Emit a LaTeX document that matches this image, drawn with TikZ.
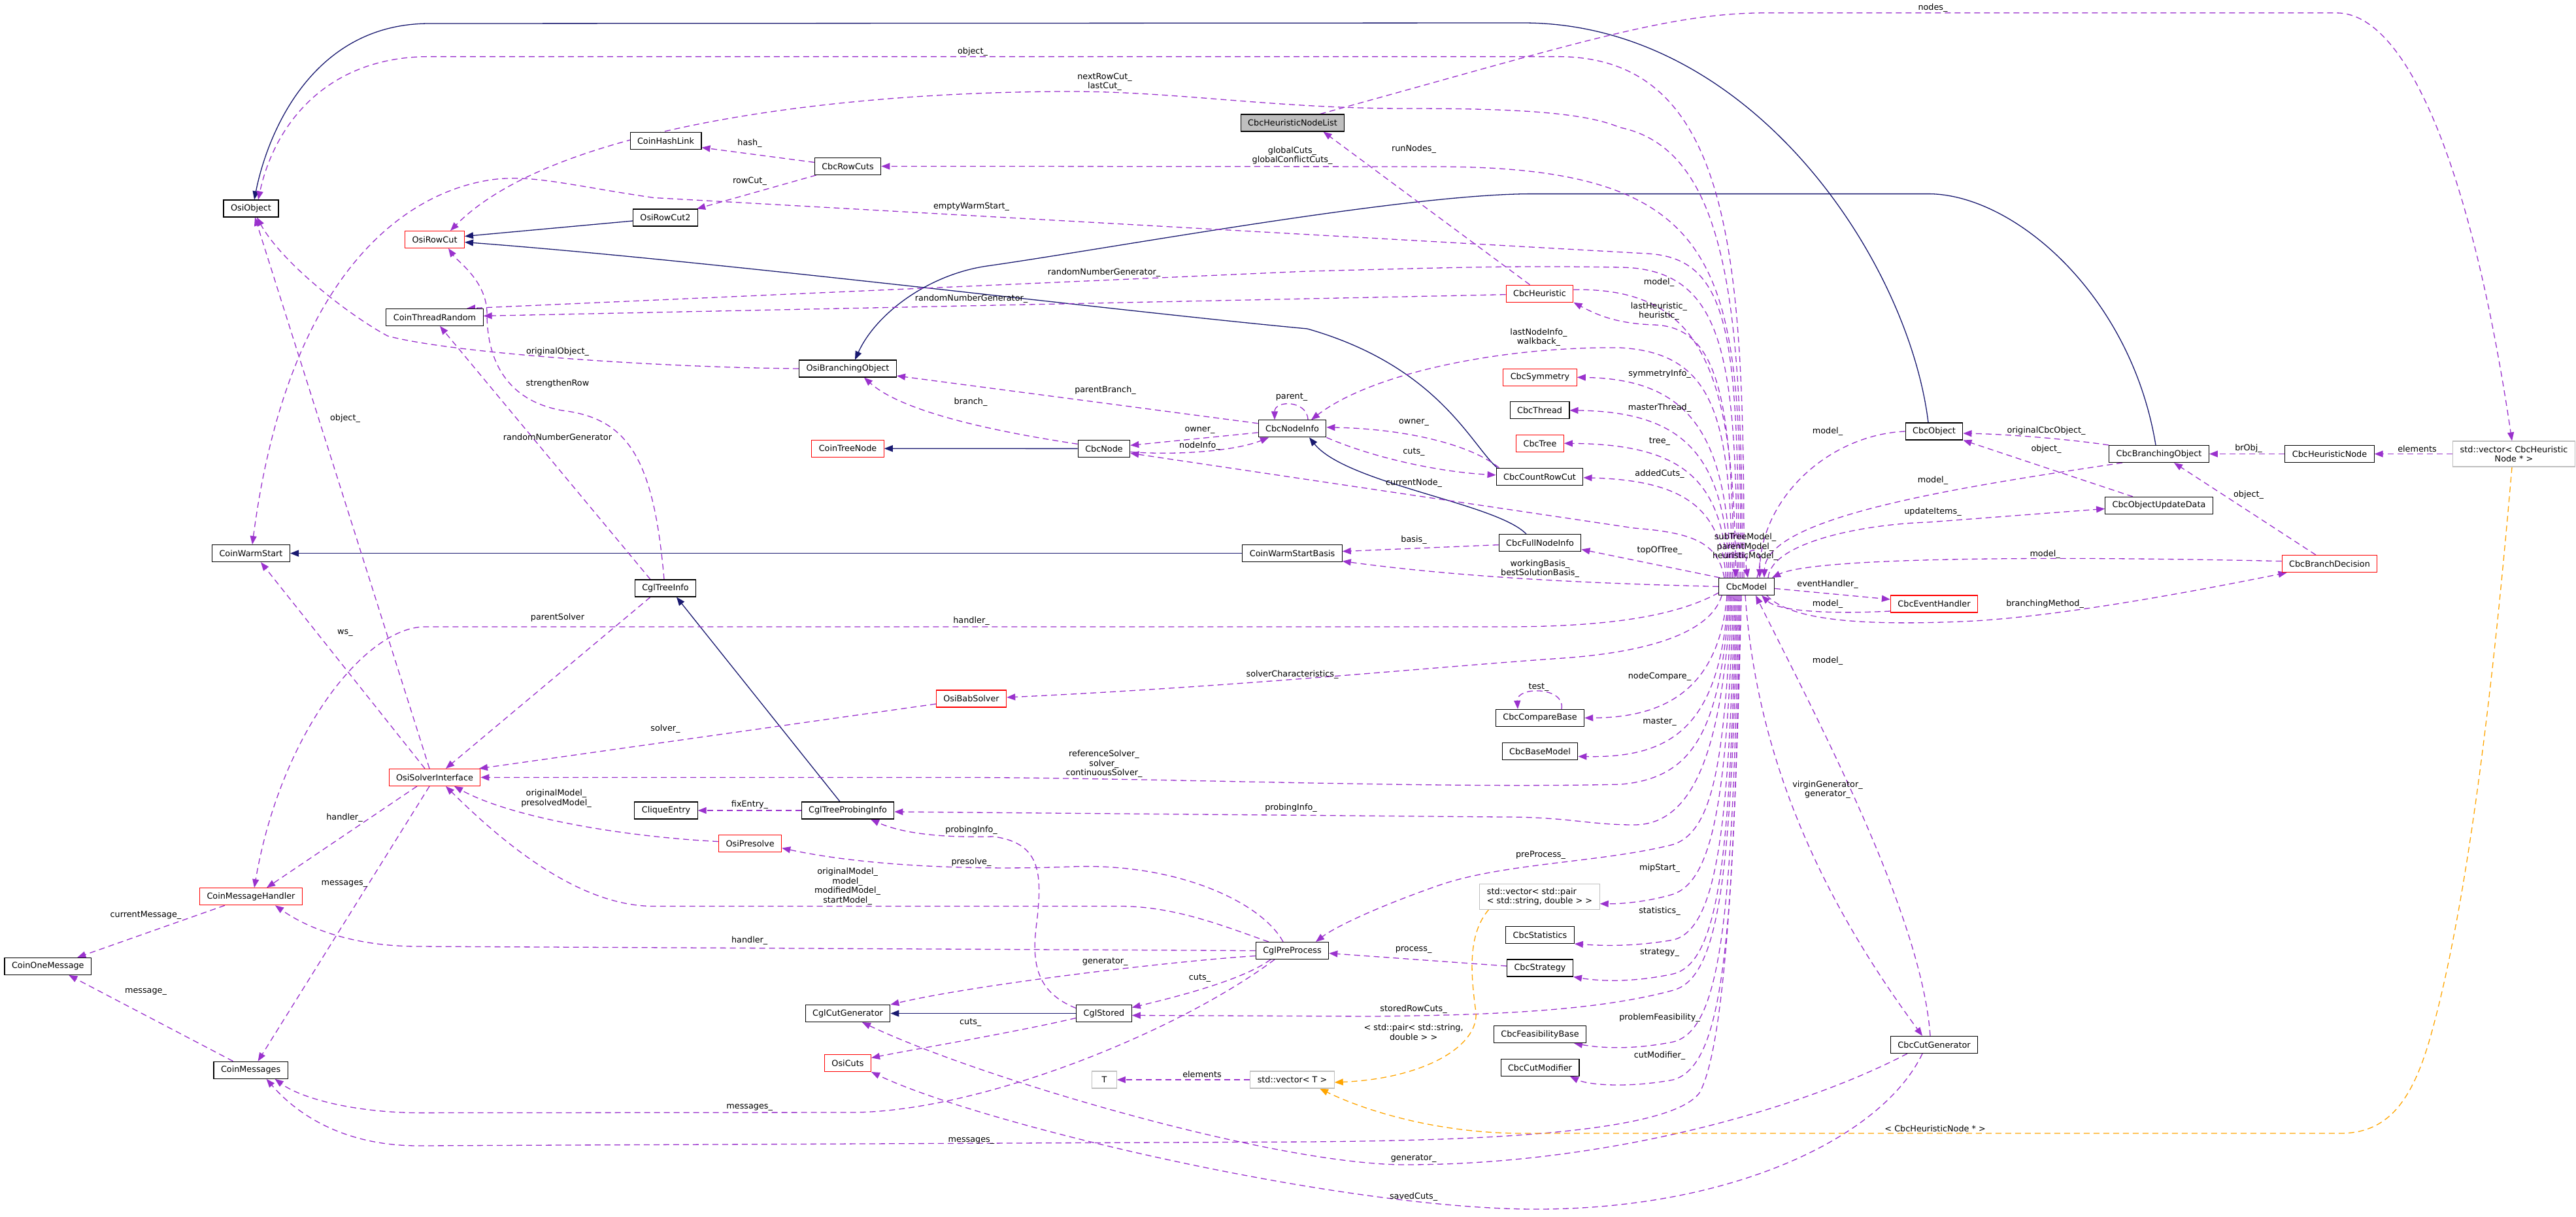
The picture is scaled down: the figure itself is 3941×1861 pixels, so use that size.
\documentclass[tikz,border=0pt]{standalone}
\usepackage{fontspec}
\setmainfont{DejaVu Sans}
\usetikzlibrary{arrows.meta,backgrounds}
\definecolor{purp}{RGB}{154,50,205}
\definecolor{navyc}{RGB}{25,25,112}
\definecolor{orng}{RGB}{255,165,0}
\definecolor{grayb}{RGB}{191,191,191}
\tikzset{
 box/.style={draw=black, line width=1.1pt, fill=white, minimum height=26pt, inner xsep=11pt, inner ysep=1pt},
 rbox/.style={box, draw=red},
 tbox/.style={box, draw=grayb},
 dep/.style={draw=purp, line width=1.3pt, dash pattern=on 9pt off 6pt, -{Triangle[length=13pt,width=10pt]}},
 inh/.style={draw=navyc, line width=1.3pt, -{Triangle[length=13pt,width=10pt]}},
 tpl/.style={draw=orng, line width=1.3pt, dash pattern=on 9pt off 6pt, -{Triangle[length=13pt,width=10pt]}},
 lbl/.style={inner sep=0pt, align=center}
}
\begin{document}
\begin{tikzpicture}[x=1pt, y=-1pt, font=\fontsize{12.8}{14.5}\selectfont]
\useasboundingbox (0,0) rectangle (3941,1861);
% ---------------- nodes
\node[box] (OsiObject) at (384,319) {OsiObject};
\node[rbox] (OsiRowCut) at (665,366.5) {OsiRowCut};
\node[box] (CoinThreadRandom) at (665,485.4) {CoinThreadRandom};
\node[box] (CoinHashLink) at (1018.5,215.7) {CoinHashLink};
\node[box] (OsiRowCut2) at (1018,333) {OsiRowCut2};
\node[box, fill=grayb] (CbcHeuristicNodeList) at (1977.5,188) {CbcHeuristicNodeList};
\node[box] (CbcRowCuts) at (1297,254.4) {CbcRowCuts};
\node[box] (OsiBranchingObject) at (1297,564) {OsiBranchingObject};
\node[rbox] (CbcHeuristic) at (2355.5,449.2) {CbcHeuristic};
\node[rbox] (CbcSymmetry) at (2356,577.3) {CbcSymmetry};
\node[box] (CbcThread) at (2355.5,627.8) {CbcThread};
\node[rbox] (CbcTree) at (2356,678.3) {CbcTree};
\node[box] (CbcCountRowCut) at (2355.5,729.3) {CbcCountRowCut};
\node[box] (CbcNodeInfo) at (1977,655.8) {CbcNodeInfo};
\node[box] (CbcNode) at (1689,686.4) {CbcNode};
\node[rbox] (CoinTreeNode) at (1297,686.2) {CoinTreeNode};
\node[box] (CbcFullNodeInfo) at (2356,830.6) {CbcFullNodeInfo};
\node[box] (CoinWarmStartBasis) at (1977,846.6) {CoinWarmStartBasis};
\node[box] (CoinWarmStart) at (384,846.6) {CoinWarmStart};
\node[box] (CbcModel) at (2672,897.4) {CbcModel};
\node[box] (CbcObject) at (2959,660) {CbcObject};
\node[box] (CbcBranchingObject) at (3303,694.5) {CbcBranchingObject};
\node[box] (CbcHeuristicNode) at (3564,694.5) {CbcHeuristicNode};
\node[tbox, minimum height=39pt, inner ysep=2pt, align=center] (vecHN) at (3846,694.5) {std::vector< CbcHeuristic\\Node * >};
\node[box] (CbcObjectUpdateData) at (3303,773.4) {CbcObjectUpdateData};
\node[rbox] (CbcBranchDecision) at (3564,862.6) {CbcBranchDecision};
\node[rbox] (CbcEventHandler) at (2959,924) {CbcEventHandler};
\node[box] (CbcCompareBase) at (2356,1098.4) {CbcCompareBase};
\node[box] (CbcBaseModel) at (2356,1149.3) {CbcBaseModel};
\node[box] (CglTreeInfo) at (1018,900) {CglTreeInfo};
\node[rbox] (OsiSolverInterface) at (665,1189.4) {OsiSolverInterface};
\node[rbox] (OsiBabSolver) at (1486,1069) {OsiBabSolver};
\node[box] (CliqueEntry) at (1019,1240) {CliqueEntry};
\node[box] (CglTreeProbingInfo) at (1297,1240) {CglTreeProbingInfo};
\node[rbox] (OsiPresolve) at (1147.6,1290.5) {OsiPresolve};
\node[box] (CglPreProcess) at (1977,1454.5) {CglPreProcess};
\node[box] (CglCutGenerator) at (1297,1550.5) {CglCutGenerator};
\node[box] (CglStored) at (1689,1550.5) {CglStored};
\node[rbox] (OsiCuts) at (1297,1626.5) {OsiCuts};
\node[tbox, minimum width=38pt] (Tn) at (1689.4,1652) {T};
\node[tbox] (vecT) at (1977,1652) {std::vector< T >};
\node[tbox, minimum height=39pt, inner ysep=2pt, align=left] (vecPair) at (2355.5,1371.7) {std::vector< std::pair\\< std::string, double > >};
\node[box] (CbcStatistics) at (2356,1430.5) {CbcStatistics};
\node[box] (CbcStrategy) at (2356,1481) {CbcStrategy};
\node[box] (CbcFeasibilityBase) at (2356,1582.6) {CbcFeasibilityBase};
\node[box] (CbcCutModifier) at (2356,1633.3) {CbcCutModifier};
\node[box] (CbcCutGenerator) at (2959,1598.4) {CbcCutGenerator};
\node[rbox] (CoinMessageHandler) at (384,1371.7) {CoinMessageHandler};
\node[box] (CoinOneMessage) at (73.3,1478.4) {CoinOneMessage};
\node[box] (CoinMessages) at (383.6,1637.2) {CoinMessages};
% ---------------- labels
\node[lbl] (lb1) at (1488,79) {object\_};
\node[lbl] (lb2) at (1690,125.5) {nextRowCut\_\\lastCut\_};
\node[lbl] (lb3) at (2957,12) {nodes\_};
\node[lbl] (lb4) at (2163,227.8) {runNodes\_};
\node[lbl] (lb5) at (1147,219.5) {hash\_};
\node[lbl] (lb6) at (1977,238) {globalCuts\_\\globalConflictCuts\_};
\node[lbl] (lb7) at (1147,276.8) {rowCut\_};
\node[lbl] (lb8) at (1486,316) {emptyWarmStart\_};
\node[lbl] (lb9) at (1689,416.8) {randomNumberGenerator\_};
\node[lbl] (lb10) at (1486,456.7) {randomNumberGenerator\_};
\node[lbl] (lb11) at (2538,432) {model\_};
\node[lbl] (lb12) at (2538,476) {lastHeuristic\_\\heuristic\_};
\node[lbl] (lb13) at (2354,516) {lastNodeInfo\_\\walkback\_};
\node[lbl] (lb14) at (2539,572) {symmetryInfo\_};
\node[lbl] (lb15) at (2539,624) {masterThread\_};
\node[lbl] (lb16) at (2539,675.4) {tree\_};
\node[lbl] (lb17) at (2539,724.8) {addedCuts\_};
\node[lbl] (lb18) at (853,538.6) {originalObject\_};
\node[lbl] (lb19) at (853,586.8) {strengthenRow};
\node[lbl] (lb20) at (853,669) {randomNumberGenerator};
\node[lbl] (lb21) at (528,640.6) {object\_};
\node[lbl] (lb22) at (1691,596.7) {parentBranch\_};
\node[lbl] (lb23) at (1485,614.9) {branch\_};
\node[lbl] (lb24) at (1976,608) {parent\_};
\node[lbl] (lb25) at (1835.5,658.8) {owner\_};
\node[lbl] (lb26) at (1835.5,682.5) {nodeInfo\_};
\node[lbl] (lb27) at (2163,646.9) {owner\_};
\node[lbl] (lb28) at (2163,692) {cuts\_};
\node[lbl] (lb29) at (2163,739.4) {currentNode\_};
\node[lbl] (lb30) at (2163,826.4) {basis\_};
\node[lbl] (lb31) at (2539,842.6) {topOfTree\_};
\node[lbl] (lb32) at (2356,870) {workingBasis\_\\bestSolutionBasis\_};
\node[lbl] (lb33) at (2670,837) {subTreeModel\_\\parentModel\_\\heuristicModel\_};
\node[lbl] (lb34) at (2796,660.3) {model\_};
\node[lbl] (lb35) at (3130.5,658.7) {originalCbcObject\_};
\node[lbl] (lb36) at (3130.5,687.2) {object\_};
\node[lbl] (lb37) at (3440,686.4) {brObj\_};
\node[lbl] (lb38) at (3698,686.4) {elements};
\node[lbl] (lb39) at (2957,734.7) {model\_};
\node[lbl] (lb40) at (2957,783.3) {updateItems\_};
\node[lbl] (lb41) at (3440,756.8) {object\_};
\node[lbl] (lb42) at (3128.6,847.8) {model\_};
\node[lbl] (lb43) at (3128.6,923.7) {branchingMethod\_};
\node[lbl] (lb44) at (2796,894) {eventHandler\_};
\node[lbl] (lb45) at (2796,924.5) {model\_};
\node[lbl] (lb46) at (2796,1011.5) {model\_};
\node[lbl] (lb47) at (528,968) {ws\_};
\node[lbl] (lb48) at (853,944.6) {parentSolver};
\node[lbl] (lb49) at (1486,950.2) {handler\_};
\node[lbl] (lb50) at (1977,1032) {solverCharacteristics\_};
\node[lbl] (lb51) at (1018,1115) {solver\_};
\node[lbl] (lb52) at (2539,1035) {nodeCompare\_};
\node[lbl] (lb53) at (2354,1052) {test\_};
\node[lbl] (lb54) at (2539,1104.8) {master\_};
\node[lbl] (lb55) at (1689,1169) {referenceSolver\_\\solver\_\\continuousSolver\_};
\node[lbl] (lb56) at (2796,1208) {virginGenerator\_\\generator\_};
\node[lbl] (lb57) at (1147,1231) {fixEntry\_};
\node[lbl] (lb58) at (1975,1236) {probingInfo\_};
\node[lbl] (lb59) at (851,1221.6) {originalModel\_\\presolvedModel\_};
\node[lbl] (lb60) at (527,1250.7) {handler\_};
\node[lbl] (lb61) at (1486,1270.5) {probingInfo\_};
\node[lbl] (lb62) at (1486,1319) {presolve\_};
\node[lbl] (lb63) at (2357,1308) {preProcess\_};
\node[lbl] (lb64) at (2539,1328) {mipStart\_};
\node[lbl] (lb65) at (1296.6,1356) {originalModel\_\\model\_\\modifiedModel\_\\startModel\_};
\node[lbl] (lb66) at (527,1352) {messages\_};
\node[lbl] (lb67) at (2539,1394.5) {statistics\_};
\node[lbl] (lb68) at (223,1400.8) {currentMessage\_};
\node[lbl] (lb69) at (1146.7,1439) {handler\_};
\node[lbl] (lb70) at (2162.6,1453) {process\_};
\node[lbl] (lb71) at (2539,1457) {strategy\_};
\node[lbl] (lb72) at (1690.7,1471) {generator\_};
\node[lbl] (lb73) at (1835.5,1496.6) {cuts\_};
\node[lbl] (lb74) at (223,1517) {message\_};
\node[lbl] (lb75) at (2162.6,1544.5) {storedRowCuts\_};
\node[lbl] (lb76) at (2539,1556.8) {problemFeasibility\_};
\node[lbl] (lb77) at (1484.7,1564) {cuts\_};
\node[lbl] (lb78) at (2162.6,1579) {< std::pair< std::string,\\double > >};
\node[lbl] (lb79) at (2539,1615.4) {cutModifier\_};
\node[lbl] (lb80) at (1839,1644) {elements};
\node[lbl] (lb81) at (1146.7,1694.6) {messages\_};
\node[lbl] (lb82) at (2960.6,1726.3) {< CbcHeuristicNode * >};
\node[lbl] (lb83) at (1486,1745) {messages\_};
\node[lbl] (lb84) at (2162.6,1772.7) {generator\_};
\node[lbl] (lb85) at (2162.6,1831) {savedCuts\_};
% ---------------- edges
\begin{scope}[on background layer]
\fill[white] (0,0) rectangle (3941,1861);
% inheritance
\draw[inh] ([xshift=-9pt]CbcObject.north) .. controls (2920,400) and (2680,35) .. (2330,35) -- (657,36) .. controls (480,36) and (410,200) .. ([xshift=5pt]OsiObject.north);
\draw[inh] ([xshift=-5pt]CbcBranchingObject.north) .. controls (3260,450) and (3080,296.6) .. (2950,296.6) -- (2344,296.6) .. controls (2150,296.6) and (1700,380) .. (1510,407) .. controls (1420,420) and (1340,480) .. ([xshift=11pt]OsiBranchingObject.north);
\draw[inh] ([xshift=2pt]CbcCountRowCut.north west) .. controls (2250,680) and (2200,560) .. (2000,503) .. controls (1700,475) and (1100,400) .. ([yshift=-4pt]OsiRowCut.east);
\draw[inh] ([yshift=-5pt]OsiRowCut2.west) -- ([yshift=5pt]OsiRowCut.east);
\draw[inh] ([xshift=-21pt]CbcFullNodeInfo.north) .. controls (2290,770) and (2060,740) .. ([xshift=26pt]CbcNodeInfo.south);
\draw[inh] (CoinWarmStartBasis) -- (CoinWarmStart);
\draw[inh] (CbcNode) -- (CoinTreeNode);
\draw[inh] ([xshift=-12pt]CglTreeProbingInfo.north) -- ([xshift=17pt]CglTreeInfo.south);
\draw[inh] (CglStored) -- (CglCutGenerator);
% top bundle of CbcModel
\draw[dep] ([xshift=-4pt]CbcModel.north) .. controls (2668,420) and (2660,86.6) .. (2383,86.6) -- (657,86.6) .. controls (500,86.6) and (420,190) .. ([xshift=11pt]OsiObject.north);
\draw[dep] ([xshift=-6.5pt]CbcModel.north) .. controls (2665,500) and (2652,230) .. (2478,195) .. controls (2420,170) and (2300,166) .. (2150,166) .. controls (1950,166) and (1800,140) .. (1638,140) .. controls (1300,140) and (850,190) .. ([xshift=24pt]OsiRowCut.north);
\draw[dep] ([xshift=-9pt]CbcModel.north) .. controls (2663,420) and (2655,256) .. (2200,255) -- (CbcRowCuts.east);
\draw[dep] ([xshift=-11.5pt]CbcModel.north) .. controls (2658,520) and (2650,395) .. (2520,388) -- (1000,302.5) .. controls (880,285) and (820,268) .. (760,274) .. controls (620,290) and (440,420) .. ([xshift=2pt]CoinWarmStart.north);
\draw[dep] ([xshift=-14pt]CbcModel.north) .. controls (2655,560) and (2645,412) .. (2480,409) .. controls (2300,406) and (2200,410) .. (2000,415) -- ([xshift=49pt]CoinThreadRandom.north);
\draw[dep] ([yshift=6pt]CbcHeuristic.east) .. controls (2600,440) and (2652,560) .. ([xshift=-16.5pt]CbcModel.north);
\draw[dep] ([xshift=-19pt]CbcModel.north) .. controls (2649,620) and (2633,500) .. (2530,497) .. controls (2470,495) and (2440,480) .. (CbcHeuristic.south east);
\draw[dep] ([xshift=-21.5pt]CbcModel.north) .. controls (2646,650) and (2630,540) .. (2478,532) .. controls (2300,530) and (2100,570) .. ([xshift=29pt]CbcNodeInfo.north);
\draw[dep] ([xshift=-24pt]CbcModel.north) .. controls (2643,670) and (2590,580) .. (CbcSymmetry.east);
\draw[dep] ([xshift=-26.5pt]CbcModel.north) .. controls (2640,700) and (2580,630) .. (CbcThread.east);
\draw[dep] ([xshift=-29pt]CbcModel.north) .. controls (2637,730) and (2570,680) .. (CbcTree.east);
\draw[dep] ([xshift=-31.5pt]CbcModel.north) .. controls (2633,780) and (2580,735) .. ([yshift=-1.5pt]CbcCountRowCut.east);
\draw[dep] ([xshift=-34pt]CbcModel.north) .. controls (2628,830) and (2590,815) .. (2500,808) -- ([yshift=-7pt]CbcNode.east);
\draw[dep] ([xshift=2pt]CbcModel.north west) -- ([yshift=-10pt]CbcFullNodeInfo.east);
\draw[dep] (CbcModel.west) .. controls (2450,893) and (2250,885) .. ([yshift=-12pt]CoinWarmStartBasis.east);
\draw[dep] ([xshift=16pt]CbcModel.north) .. controls (2705,830) and (2665,830) .. ([xshift=2pt]CbcModel.north);
\draw[dep] (CbcObject.west) .. controls (2800,665) and (2694,760) .. ([xshift=20pt]CbcModel.north);
\draw[dep] ([xshift=-56pt]CbcBranchingObject.south) .. controls (3000,745) and (2702,790) .. ([xshift=27pt]CbcModel.north);
\draw[dep] ([xshift=33pt]CbcModel.north) .. controls (2710,830) and (2850,802) .. (2950,799) -- ([yshift=-5pt]CbcObjectUpdateData.west);
\draw[dep] ([yshift=4pt]CbcBranchDecision.west) .. controls (3200,852) and (2780,850) .. ([xshift=39pt]CbcModel.north);
% right side
\draw[dep] ([xshift=-12pt]CbcModel.south east) .. controls (2740,950) and (2850,957) .. (3000,951) .. controls (3150,945) and (3380,900) .. ([xshift=8pt]CbcBranchDecision.south west);
\draw[dep] ([yshift=-3pt]CbcModel.east) -- ([yshift=7pt]CbcEventHandler.west);
\draw[dep] ([yshift=-11pt]CbcEventHandler.west) .. controls (2800,940) and (2720,935) .. ([xshift=23pt]CbcModel.south);
\draw[dep] ([xshift=-2pt]CbcModel.south) .. controls (2690,1200) and (2820,1420) .. ([xshift=-18pt]CbcCutGenerator.north);
\draw[dep] ([xshift=-6pt]CbcCutGenerator.north) .. controls (2940,1400) and (2780,1100) .. ([xshift=14pt]CbcModel.south);
\draw[dep] (CbcBranchingObject.north west) .. controls (3150,670) and (3060,664) .. ([yshift=-3pt]CbcObject.east);
\draw[dep] ([xshift=-40pt]CbcObjectUpdateData.north) -- (CbcObject.south east);
\draw[dep] (CbcHeuristicNode) -- (CbcBranchingObject);
\draw[dep] (vecHN) -- (CbcHeuristicNode);
\draw[dep] ([xshift=-21pt]CbcBranchDecision.north) -- ([xshift=23pt]CbcBranchingObject.south);
% bottom bundle of CbcModel
\draw[dep] ([yshift=4pt]CbcModel.south west) .. controls (2560,945) and (2450,959) .. (2300,959) -- (650,959) .. controls (560,959) and (430,1120) .. ([xshift=5pt]CoinMessageHandler.north);
\draw[dep] ([xshift=5pt]CbcModel.south west) .. controls (2615,975) and (2500,1000) .. (2383,1007.5) .. controls (2200,1020) and (1900,1050) .. ([yshift=2pt]OsiBabSolver.east);
\draw[dep] ([xshift=-30pt]CbcModel.south) .. controls (2630,1060) and (2540,1098) .. (CbcCompareBase.east);
\draw[dep] ([xshift=-28pt]CbcModel.south) .. controls (2632,1110) and (2560,1160) .. ([yshift=-8pt]CbcBaseModel.east);
\draw[dep] ([xshift=-26pt]CbcModel.south) .. controls (2632,1120) and (2590,1190) .. (2480,1200) .. controls (2200,1207) and (1750,1189.4) .. (1450,1189.4) -- (OsiSolverInterface.east);
\draw[dep] ([xshift=-24pt]CbcModel.south) .. controls (2635,1150) and (2590,1262) .. (2500,1262) .. controls (2430,1262) and (2400,1250) .. (2300,1250) -- ([yshift=-2pt]CglTreeProbingInfo.east);
\draw[dep] ([xshift=-22pt]CbcModel.south) .. controls (2638,1150) and (2625,1270) .. (2560,1292) .. controls (2450,1320) and (2300,1320) .. (2200,1355) .. controls (2100,1390) and (2040,1420) .. ([xshift=36pt]CglPreProcess.north);
\draw[dep] ([xshift=-20pt]CbcModel.south) .. controls (2642,1200) and (2625,1345) .. (2560,1368) .. controls (2520,1380) and (2480,1383) .. ([yshift=-11pt]vecPair.east);
\draw[dep] ([xshift=-18pt]CbcModel.south) .. controls (2645,1250) and (2630,1420) .. (2560,1438) .. controls (2490,1450) and (2440,1446) .. (CbcStatistics.south east);
\draw[dep] ([xshift=-16pt]CbcModel.south) .. controls (2647,1300) and (2632,1472) .. (2560,1490) .. controls (2490,1505) and (2440,1500) .. (CbcStrategy.south east);
\draw[dep] ([xshift=-14pt]CbcModel.south) .. controls (2649,1330) and (2632,1495) .. (2560,1515) .. controls (2450,1545) and (2300,1553) .. (2100,1555) -- ([yshift=-3pt]CglStored.east);
\draw[dep] ([xshift=-12pt]CbcModel.south) .. controls (2651,1400) and (2634,1575) .. (2560,1594) .. controls (2490,1608) and (2440,1602) .. ([xshift=52pt]CbcFeasibilityBase.south);
\draw[dep] ([xshift=-10pt]CbcModel.south) .. controls (2653,1450) and (2636,1630) .. (2560,1652) .. controls (2490,1665) and (2430,1660) .. ([xshift=46pt]CbcCutModifier.south);
\draw[dep] ([xshift=-8pt]CbcModel.south) .. controls (2655,1300) and (2640,1600) .. (2600,1672) .. controls (2550,1740) and (2200,1745) .. (2000,1747) -- (640,1753) .. controls (520,1753) and (450,1700) .. ([xshift=24pt]CoinMessages.south);
% middle
\draw[dep] ([xshift=-15pt]CbcHeuristic.north) -- ([xshift=47pt]CbcHeuristicNodeList.south);
\draw[dep] ([xshift=42pt]CbcHeuristicNodeList.north) .. controls (2400,70) and (2550,19.8) .. (2700,19.8) -- (3575,19.8) .. controls (3680,19.8) and (3780,250) .. ([xshift=-3pt]vecHN.north);
\draw[dep] ([yshift=6pt]CbcRowCuts.west) -- ([yshift=-10pt]CoinHashLink.east);
\draw[dep] ([xshift=3pt]CbcRowCuts.south west) -- ([xshift=-2pt]OsiRowCut2.north east);
\draw[dep] ([yshift=-1.5pt]CbcHeuristic.west) -- ([yshift=2pt]CoinThreadRandom.east);
\draw[dep] ([xshift=-23pt]CglTreeInfo.north) -- ([xshift=8pt]CoinThreadRandom.south);
\draw[dep] ([xshift=-2pt]CglTreeInfo.north) .. controls (1000,700) and (960,640) .. (860,628) .. controls (760,610) and (745,530) .. (745,480) .. controls (745,430) and (700,400) .. ([xshift=21pt]OsiRowCut.south);
\draw[dep] (OsiBranchingObject.west) .. controls (1000,562) and (690,540) .. (593,514) .. controls (530,480) and (430,400) .. ([xshift=9pt]OsiObject.south);
\draw[dep] ([xshift=-8pt]OsiSolverInterface.north) -- ([xshift=6pt]OsiObject.south);
\draw[dep] ([xshift=-15pt]OsiSolverInterface.north) -- ([xshift=15pt]CoinWarmStart.south);
\draw[dep] ([xshift=-23pt]CglTreeInfo.south) -- ([xshift=17pt]OsiSolverInterface.north);
\draw[dep] ([xshift=-27pt]OsiSolverInterface.south) -- ([xshift=24pt]CoinMessageHandler.north);
\draw[dep] ([xshift=-8pt]OsiSolverInterface.south) -- ([xshift=11pt]CoinMessages.north);
\draw[dep] ([xshift=-40pt]CoinMessageHandler.south) -- ([xshift=45pt]CoinOneMessage.north);
\draw[dep] ([xshift=-27pt]CoinMessages.north) -- ([xshift=32pt]CoinOneMessage.south);
\draw[dep] ([xshift=-62pt]CbcCountRowCut.north) .. controls (2250,680) and (2150,656) .. ([yshift=2pt]CbcNodeInfo.east);
\draw[dep] (CbcNodeInfo.south east) .. controls (2100,700) and (2200,722) .. ([yshift=2.5pt]CbcCountRowCut.west);
\draw[dep] ([xshift=24pt]CbcNodeInfo.north) .. controls (2000,612) and (1950,612) .. ([xshift=-27pt]CbcNodeInfo.north);
\draw[dep] ([yshift=8pt]CbcNodeInfo.west) -- ([yshift=-11pt]OsiBranchingObject.east);
\draw[dep] ([yshift=7pt]CbcNode.west) .. controls (1520,660) and (1380,630) .. ([xshift=25pt]OsiBranchingObject.south);
\draw[dep] ([yshift=-6pt]CbcNodeInfo.west) -- ([yshift=5pt]CbcNode.east);
\draw[dep] ([yshift=-5pt]CbcNode.east) .. controls (1800,697) and (1890,690) .. ([xshift=-36pt]CbcNodeInfo.south);
\draw[dep] ([yshift=-3pt]CbcFullNodeInfo.west) -- ([yshift=3pt]CoinWarmStartBasis.east);
\draw[dep] ([yshift=-8pt]OsiBabSolver.west) -- ([xshift=68pt]OsiSolverInterface.north);
\draw[dep] ([xshift=33pt]CbcCompareBase.north) .. controls (2395,1050) and (2320,1050) .. ([xshift=-34pt]CbcCompareBase.north);
\draw[dep] (CglTreeProbingInfo) -- (CliqueEntry);
\draw[dep] ([yshift=8pt]CglStored.west) .. controls (1590,1520) and (1578,1480) .. (1585,1420) .. controls (1595,1340) and (1595,1290) .. (1520,1280) .. controls (1440,1282) and (1380,1275) .. ([xshift=35pt]CglTreeProbingInfo.south);
\draw[dep] ([yshift=-7pt]CglStored.west) .. controls (1550,1580) and (1400,1605) .. ([yshift=8pt]OsiCuts.east);
\draw[dep] ([xshift=-36pt]CglPreProcess.north) .. controls (1880,1420) and (1800,1386.5) .. (1714,1386.5) -- (1000,1386.5) .. controls (880,1386.5) and (760,1280) .. ([xshift=17pt]OsiSolverInterface.south);
\draw[dep] ([yshift=3pt]OsiPresolve.west) .. controls (950,1280) and (780,1250) .. ([xshift=30pt]OsiSolverInterface.south);
\draw[dep] ([xshift=-14pt]CglPreProcess.north) .. controls (1930,1380) and (1800,1320) .. (1640,1326) .. controls (1450,1333) and (1300,1320) .. ([yshift=-7pt]OsiPresolve.east);
\draw[dep] (CglPreProcess.west) -- (640,1448) .. controls (540,1448) and (470,1420) .. ([xshift=37pt]CoinMessageHandler.south);
\draw[dep] ([yshift=-8pt]CglPreProcess.west) .. controls (1800,1470) and (1500,1505) .. (CglCutGenerator.north east);
\draw[dep] ([xshift=-33pt]CglPreProcess.south) .. controls (1900,1500) and (1800,1525) .. ([yshift=9pt]CglStored.east);
\draw[dep] ([xshift=-27pt]CglPreProcess.south) .. controls (1800,1580) and (1500,1700) .. (1306,1702) -- (640,1702.6) .. controls (540,1702) and (460,1680) .. ([xshift=37pt]CoinMessages.south);
\draw[dep] ([yshift=3pt]CbcStrategy.west) -- ([yshift=-4pt]CglPreProcess.east);
\draw[dep] (vecT) -- (Tn);
\draw[dep] ([xshift=-41pt]CbcCutGenerator.south) .. controls (2750,1700) and (2450,1782) .. (2150,1782) .. controls (1950,1782) and (1500,1650) .. ([xshift=22pt]CglCutGenerator.south);
\draw[dep] ([xshift=-18pt]CbcCutGenerator.south) .. controls (2880,1740) and (2650,1850) .. (2350,1850) .. controls (2050,1850) and (1500,1720) .. (OsiCuts.south east);
% templates
\draw[tpl] ([xshift=-78pt]vecPair.south) .. controls (2245,1430) and (2250,1490) .. (2258,1549) .. controls (2262,1600) and (2180,1650) .. ([yshift=-4pt]vecT.east);
\draw[tpl] ([xshift=-3pt]vecHN.south) .. controls (3810,1100) and (3770,1400) .. (3720,1580) .. controls (3690,1690) and (3650,1734) .. (3580,1734) -- (2330,1734) .. controls (2200,1734) and (2090,1700) .. ([xshift=42pt]vecT.south);
\end{scope}
\end{tikzpicture}
\end{document}
